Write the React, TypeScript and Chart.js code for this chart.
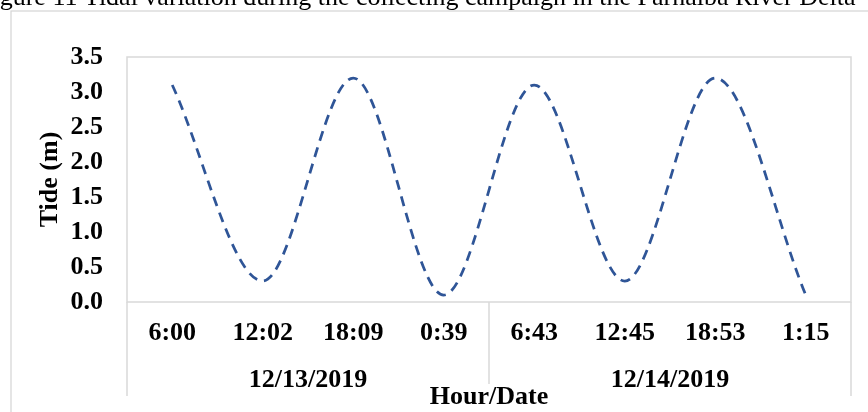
import React, { useEffect, useRef } from 'react';
import { Chart, registerables } from 'chart.js';

Chart.register(...registerables);

const FIGURE_TITLE = 'Figure 11 Tidal variation during the collecting campaign in the Parnaíba River Delta';
const hourLabels = ['6:00', '12:02', '18:09', '0:39', '6:43', '12:45', '18:53', '1:15'];
const dateLabels = ['12/13/2019', '12/14/2019'];
const tideValues = [3.1, 0.3, 3.2, 0.1, 3.1, 0.3, 3.2, 0.1];
const yTitle = 'Tide (m)';
const xTitle = 'Hour/Date';
const Y_MIN = 0;
const Y_MAX = 3.5;
const Y_STEP = 0.5;

const SERIF = '"Liberation Serif", "Times New Roman", Times, serif';
const GRID_GRAY = '#d9d9d9';

const boldFont = { family: SERIF, size: 26, weight: 'bold' as const, lineHeight: 1.1 };

const decorPlugin = {
  id: 'decor',
  beforeDraw(chart: any) {
    const { ctx } = chart;
    ctx.save();
    ctx.fillStyle = '#ffffff';
    ctx.fillRect(0, 0, chart.width, chart.height);
    // clipped figure caption above the chart frame
    ctx.fillStyle = '#000000';
    ctx.font = `26px ${SERIF}`;
    ctx.textAlign = 'left';
    ctx.textBaseline = 'alphabetic';
    ctx.fillText(FIGURE_TITLE, -22, 5);
    // outer chart frame
    ctx.strokeStyle = '#d4d4d4';
    ctx.lineWidth = 1.2;
    ctx.strokeRect(11, 11, chart.width + 40, chart.height + 40);
    ctx.restore();
  },
  beforeDatasetsDraw(chart: any) {
    const { ctx, chartArea: a } = chart;
    const xs = chart.scales.x;
    ctx.save();
    ctx.strokeStyle = GRID_GRAY;
    ctx.lineWidth = 1.5;
    ctx.strokeRect(a.left, a.top, a.right - a.left, a.bottom - a.top);
    const groupSize = hourLabels.length / dateLabels.length;
    const half = (xs.getPixelForValue(1) - xs.getPixelForValue(0)) / 2;
    for (let g = 0; g <= dateLabels.length; g++) {
      const idx = g * groupSize;
      const px = idx < hourLabels.length
        ? xs.getPixelForValue(idx) - half
        : xs.getPixelForValue(hourLabels.length - 1) + half;
      const outer = g === 0 || g === dateLabels.length;
      const end = outer ? 396 : 384;
      ctx.beginPath();
      ctx.moveTo(px, a.bottom);
      ctx.lineTo(px, end);
      ctx.stroke();
    }
    ctx.restore();
  },
};

export default function App() {
  const ref = useRef<HTMLCanvasElement>(null);

  useEffect(() => {
    if (!ref.current) return;
    const chart = new Chart(ref.current, {
      type: 'line',
      data: {
        labels: hourLabels,
        datasets: [
          {
            label: 'Tide',
            data: tideValues,
            borderColor: '#2f5597',
            backgroundColor: '#2f5597',
            borderWidth: 2.75,
            borderDash: [10, 7],
            pointRadius: 0,
            fill: false,
            cubicInterpolationMode: 'monotone',
            xAxisID: 'x',
            yAxisID: 'y',
          },
        ],
      },
      options: {
        responsive: false,
        animation: false,
        events: [],
        layout: { padding: { left: 20, top: 57, right: 17, bottom: 0 } },
        plugins: {
          legend: { display: false },
          tooltip: { enabled: false },
          title: { display: false },
        },
        scales: {
          x: {
            type: 'category',
            position: 'bottom',
            weight: 0,
            offset: true,
            grid: { display: false, drawTicks: false },
            border: { display: false },
            ticks: {
              color: '#000',
              font: boldFont,
              padding: 17,
              autoSkip: false,
              maxRotation: 0,
              minRotation: 0,
            },
            afterFit: (s: any) => {
              s.height = 46;
            },
          },
          x2: {
            type: 'category',
            position: 'bottom',
            weight: 1,
            labels: dateLabels,
            offset: true,
            grid: { display: false, drawTicks: false },
            border: { display: false },
            ticks: {
              color: '#000',
              font: boldFont,
              padding: 18,
              autoSkip: false,
              maxRotation: 0,
              minRotation: 0,
            },
            title: {
              display: true,
              text: xTitle,
              color: '#000',
              font: boldFont,
              padding: { top: 0, bottom: 0 },
            },
            afterFit: (s: any) => {
              s.height = 64;
            },
          },
          y: {
            type: 'linear',
            position: 'left',
            min: Y_MIN,
            max: Y_MAX,
            grid: { display: false, drawTicks: false },
            border: { display: false },
            ticks: {
              stepSize: Y_STEP,
              color: '#000',
              font: boldFont,
              padding: 24,
              callback: (v: any) => Number(v).toFixed(1),
            },
            title: {
              display: true,
              text: yTitle,
              color: '#000',
              font: boldFont,
              padding: { top: 16, bottom: 0 },
            },
            afterFit: (s: any) => {
              s.width = 107;
            },
          },
        },
      },
      plugins: [decorPlugin],
    } as any);
    return () => chart.destroy();
  }, []);

  return (
    <div
      style={{
        position: 'fixed',
        left: 0,
        top: 0,
        width: 868,
        height: 412,
        overflow: 'hidden',
        background: '#fff',
      }}
    >
      <canvas ref={ref} width={868} height={412} style={{ display: 'block', width: 868, height: 412 }} />
    </div>
  );
}
